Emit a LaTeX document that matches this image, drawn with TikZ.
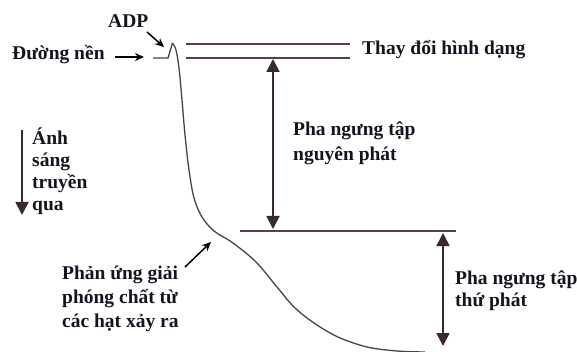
\documentclass[tikz,border=0pt]{standalone}
\usepackage{fontspec}
\setmainfont{Liberation Serif}
\usetikzlibrary{arrows.meta}
\definecolor{txt}{HTML}{141420}
\definecolor{lvl}{HTML}{5A4040}
\definecolor{arr}{HTML}{3A2A2A}
\definecolor{crv}{HTML}{454545}
\tikzset{
  lbl/.style={anchor=west, align=left, inner sep=0pt, text=txt, font=\bfseries\fontsize{19.5}{23}\selectfont},
  level/.style={draw=lvl, line width=1.8pt},
  dbl/.style={draw=arr, line width=1.8pt, {Triangle[width=13pt,length=13pt]}-{Triangle[width=13pt,length=13pt]}},
  pointer/.style={draw=black, line width=1.5pt, -{Stealth[width=8pt,length=9pt]}},
  bigdown/.style={draw=arr, line width=1.8pt, -{Triangle[width=13pt,length=13pt]}}
}
\begin{document}
\begin{tikzpicture}[x=1pt,y=-1pt]
\useasboundingbox[fill=white] (0,0) rectangle (577,352);
% level lines
\coordinate (t1a) at (186,44); \coordinate (t1b) at (350,44);
\coordinate (t2a) at (186,58); \coordinate (t2b) at (350,58);
\coordinate (ma) at (240,231); \coordinate (mb) at (456,231);
\draw[level] (t1a) -- (t1b);
\draw[level] (t2a) -- (t2b);
\draw[level, line width=1.6pt] (ma) -- (mb);
% curve
\draw[crv, line width=1.3pt] (153,58) -- (168,58) -- (172.5,43)
  plot[smooth, tension=0.55] coordinates {(172.5,43) (176,50) (179,68) (182,100) (185,135) (189,170) (194,198) (202,217) (214,231) (233,243) (256,262) (277,287) (294,307) (314,323) (338,337) (367,347) (397,351) (425,352)};
% labels
\node[lbl] (shape) at (362,50) {Thay đổi hình dạng};
\node[lbl] (base) at (12,55) {Đường nền};
\node[lbl] (adp) at (108,21) {ADP};
\node[lbl, font=\bfseries\fontsize{19.5}{25}\selectfont] (prim) at (293,143) {Pha ngưng tập\\nguyên phát};
\node[lbl, font=\bfseries\fontsize{19.5}{22}\selectfont] (sec) at (455,291) {Pha ngưng tập\\thứ phát};
\node[lbl, font=\bfseries\fontsize{19.5}{22}\selectfont] (light) at (32,171) {Ánh\\sáng\\truyền\\qua};
\node[lbl, font=\bfseries\fontsize{19.5}{24}\selectfont] (rel) at (62,299) {Phản ứng giải\\phóng chất từ\\các hạt xảy ra};
% arrows
\coordinate (p1) at (273,59); \coordinate (p2) at (273,229);
\draw[dbl] (p1) -- (p2);
\coordinate (s1) at (443,233); \coordinate (s2) at (443,346);
\draw[dbl] (s1) -- (s2);
\coordinate (l1) at (22,130); \coordinate (l2) at (22,215);
\draw[bigdown] (l1) -- (l2);
\coordinate (bs) at (115,57); \coordinate (bt) at (144,57);
\draw[pointer] (bs) -- (bt);
\coordinate (as) at (147,32); \coordinate (at) at (164,47);
\draw[pointer] (as) -- (at);
\coordinate (rs) at (185,267); \coordinate (rt) at (211,242);
\draw[pointer] (rs) -- (rt);
\end{tikzpicture}
\end{document}
